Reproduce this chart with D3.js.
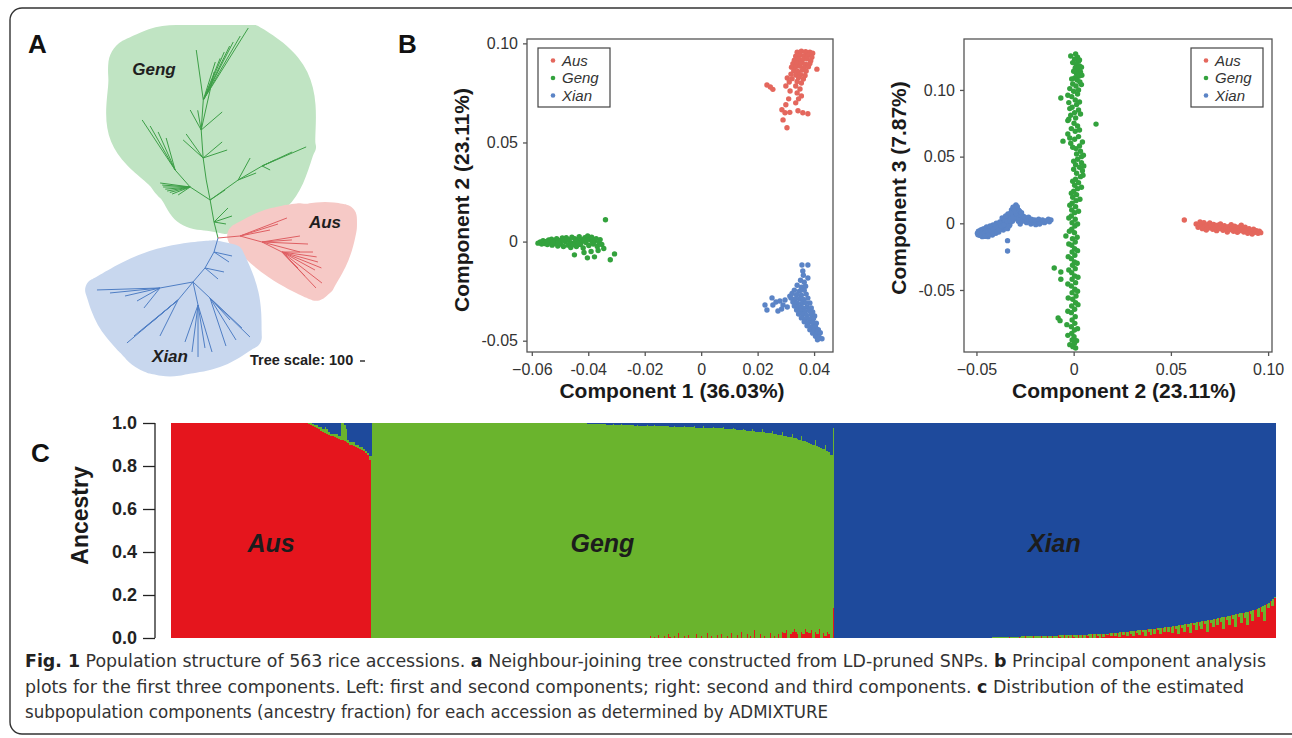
<!DOCTYPE html>
<html>
<head>
<meta charset="utf-8">
<script src="https://cdn.jsdelivr.net/npm/d3@7"></script>
<style>
  body { margin: 0; background: #fff; }
  svg { display: block; font-family: "Liberation Sans", Arial, sans-serif; }
</style>
</head>
<body>
<svg id="fig" width="1292" height="738"></svg>
<script>
// ---------------- data ----------------
// tree branches: [nodeId, parentId, angle (deg, 0 = east, 90 = north), length in tree units]
const gengBranches = [
  ["S1","root",104,330],["S2","S1",100,447],["S3","S2",101,408],["S4","S3",98,444],["S5","S4",94,561],["S6","S5",86,601],
  [null,"S6",58,1698],[null,"S6",60,1478],[null,"S6",62.7,1306],[null,"S6",64,1200],[null,"S6",66.4,1048],[null,"S6",68,900],[null,"S6",72.5,797],[null,"S6",98,1010],
  [null,"S5",118.8,456],[null,"S5",77.4,1189],[null,"S5",40.6,553],[null,"S5",100,400],
  [null,"S4",138,538],[null,"S4",125.3,588],[null,"S4",40.1,497],[null,"S4",18.4,506],
  ["L1","S2",147,477],["L2","L1",131.4,453],
  [null,"L2",123.4,1198],[null,"L2",119.6,1012],[null,"L2",114.1,833],[null,"L2",105.7,665],
  [null,"L1",180,540],[null,"L1",185,500],[null,"L1",189.9,467],[null,"L1",195,420],[null,"L1",201.3,386],[null,"L1",172.4,605],[null,"L1",176,560],[null,"L1",213.7,288],
  ["R1","S2",35.5,688],["R2","R1",30.3,556],
  [null,"R2",23.4,959],[null,"R2",25,662],[null,"R2",24.8,286],[null,"R2",-26.6,179],
  [null,"R1",61.4,501],[null,"R1",21.3,386],
  [null,"S1",45,396],[null,"S1",18.4,379],[null,"S1",-9.5,243],[null,"S2",33.7,361]
];
const ausBranches = [
  ["A1","root",5.2,442],["A2","A1",-15.3,456],["A3","A2",-26.6,447],
  [null,"A1",21,1006],[null,"A1",17.5,797],[null,"A1",11.3,612],
  [null,"A2",9,769],[null,"A2",4,600],[null,"A2",-2.5,921],[null,"A2",-14.7,786],
  [null,"A3",0,620],[null,"A3",-8,700],[null,"A3",-15.5,747],[null,"A3",-22,850],[null,"A3",-28.6,752],
  [null,"A3",-37.8,1012],[null,"A3",-46.6,990],[null,"A3",-46.2,665],[null,"A3",-45,453]
];
const xianBranches = [
  ["X1","root",-105.9,291],["X2","X1",-119.4,367],["X3","X2",-130.6,369],
  [null,"X1",-12.5,369],[null,"X1",-33.7,361],[null,"X2",-11.9,388],[null,"X2",-40.2,341],
  ["XL","X3",190.3,671],
  [null,"XL",181.8,1261],[null,"XL",185.7,1005],[null,"XL",192.9,718],[null,"XL",209.5,528],[null,"XL",231.3,512],
  ["XD","X3",-129.8,469],
  [null,"XD",220.1,1334],[null,"XD",219.3,1137],[null,"XD",219.8,937],[null,"XD",220.2,681],[null,"XD",243.4,805],
  ["XC","X3",-77.7,471],
  [null,"XC",-90,1040],[null,"XC",-97.3,948],[null,"XC",-80.8,871],[null,"XC",-109.4,784],[null,"XC",-73.4,981],
  ["XR","X3",-43.3,467],
  [null,"XR",-44.3,1117],[null,"XR",-43.2,877],[null,"XR",-58.2,988],[null,"XR",-71.6,1012],[null,"XR",-47.7,595]
];

// PCA: component 1 vs component 2
const aus12 = [[0.0340,0.0955],[0.0355,0.0960],[0.0370,0.0958],[0.0385,0.0955],[0.0395,0.0950],[0.0335,0.0935],[0.0350,0.0940],[0.0365,0.0938],[0.0380,0.0942],[0.0392,0.0930],[0.0330,0.0915],[0.0345,0.0920],[0.0360,0.0918],[0.0375,0.0922],[0.0388,0.0912],[0.0325,0.0898],[0.0340,0.0900],[0.0355,0.0902],[0.0370,0.0895],[0.0385,0.0898],[0.0320,0.0880],[0.0335,0.0882],[0.0350,0.0885],[0.0365,0.0878],[0.0380,0.0882],[0.0410,0.0870],[0.0328,0.0862],[0.0342,0.0858],[0.0358,0.0865],[0.0372,0.0860],[0.0318,0.0845],[0.0335,0.0840],[0.0352,0.0842],[0.0368,0.0838],[0.0305,0.0825],[0.0322,0.0822],[0.0345,0.0828],[0.0362,0.0820],[0.0312,0.0805],[0.0340,0.0808],[0.0355,0.0800],[0.0233,0.0790],[0.0254,0.0768],[0.0245,0.0780],[0.0300,0.0785],[0.0335,0.0785],[0.0350,0.0770],[0.0315,0.0760],[0.0340,0.0750],[0.0355,0.0735],[0.0345,0.0720],[0.0335,0.0700],[0.0286,0.0665],[0.0297,0.0650],[0.0314,0.0652],[0.0343,0.0660],[0.0360,0.0650],[0.0378,0.0645],[0.0290,0.0614],[0.0304,0.0574],[0.0300,0.0690],[0.0310,0.0720]];
const geng12 = [[-0.0578,-0.0008],[-0.0570,-0.0002],[-0.0565,-0.0012],[-0.0560,0.0004],[-0.0555,-0.0010],[-0.0550,0.0000],[-0.0545,-0.0015],[-0.0540,0.0008],[-0.0535,-0.0005],[-0.0530,0.0012],[-0.0528,-0.0018],[-0.0522,0.0002],[-0.0518,-0.0010],[-0.0512,0.0015],[-0.0508,-0.0022],[-0.0502,0.0005],[-0.0498,-0.0012],[-0.0492,0.0018],[-0.0488,-0.0025],[-0.0482,0.0000],[-0.0478,0.0020],[-0.0472,-0.0018],[-0.0468,0.0008],[-0.0462,-0.0030],[-0.0458,0.0022],[-0.0452,-0.0008],[-0.0448,0.0015],[-0.0442,-0.0025],[-0.0438,0.0005],[-0.0432,0.0025],[-0.0428,-0.0015],[-0.0422,0.0010],[-0.0418,-0.0032],[-0.0412,0.0020],[-0.0408,-0.0005],[-0.0402,0.0028],[-0.0398,-0.0020],[-0.0392,0.0008],[-0.0388,0.0022],[-0.0382,-0.0012],[-0.0378,0.0002],[-0.0372,0.0015],[-0.0368,-0.0025],[-0.0362,-0.0005],[-0.0358,0.0010],[-0.0352,-0.0015],[-0.0545,0.0002],[-0.0525,-0.0002],[-0.0505,-0.0006],[-0.0485,0.0006],[-0.0465,-0.0004],[-0.0445,0.0002],[-0.0425,-0.0004],[-0.0405,0.0010],[-0.0385,-0.0002],[-0.0475,0.0012],[-0.0455,-0.0016],[-0.0435,-0.0010],[-0.0415,0.0006],[-0.0339,0.0110],[-0.0449,-0.0067],[-0.0403,-0.0082],[-0.0378,-0.0077],[-0.0322,-0.0092],[-0.0307,-0.0062],[-0.0390,-0.0050],[-0.0365,-0.0045],[-0.0415,-0.0055],[-0.0345,-0.0035]];
const xian12 = [[0.0357,-0.0118],[0.0378,-0.0118],[0.0360,-0.0148],[0.0378,-0.0184],[0.0362,-0.0170],[0.0226,-0.0320],[0.0233,-0.0345],[0.0251,-0.0284],[0.0254,-0.0320],[0.0272,-0.0350],[0.0279,-0.0300],[0.0297,-0.0295],[0.0314,-0.0275],[0.0290,-0.0320],[0.0265,-0.0305],[0.0305,-0.0330],[0.0285,-0.0340],[0.0340,-0.0220],[0.0355,-0.0230],[0.0330,-0.0245],[0.0348,-0.0250],[0.0365,-0.0245],[0.0322,-0.0262],[0.0338,-0.0268],[0.0355,-0.0270],[0.0372,-0.0265],[0.0318,-0.0285],[0.0332,-0.0290],[0.0348,-0.0288],[0.0362,-0.0292],[0.0378,-0.0285],[0.0325,-0.0305],[0.0340,-0.0310],[0.0356,-0.0312],[0.0370,-0.0308],[0.0385,-0.0310],[0.0330,-0.0325],[0.0345,-0.0330],[0.0360,-0.0335],[0.0375,-0.0330],[0.0390,-0.0335],[0.0338,-0.0345],[0.0352,-0.0350],[0.0368,-0.0352],[0.0382,-0.0348],[0.0395,-0.0355],[0.0345,-0.0365],[0.0360,-0.0368],[0.0375,-0.0372],[0.0390,-0.0368],[0.0402,-0.0375],[0.0355,-0.0385],[0.0370,-0.0390],[0.0385,-0.0392],[0.0398,-0.0388],[0.0365,-0.0405],[0.0380,-0.0410],[0.0395,-0.0408],[0.0408,-0.0412],[0.0375,-0.0425],[0.0390,-0.0430],[0.0405,-0.0428],[0.0385,-0.0445],[0.0400,-0.0448],[0.0415,-0.0445],[0.0395,-0.0462],[0.0410,-0.0465],[0.0422,-0.0460],[0.0405,-0.0478],[0.0418,-0.0482],[0.0428,-0.0490],[0.0412,-0.0495],[0.0365,-0.0205],[0.0352,-0.0195],[0.0370,-0.0225]];

// PCA: component 2 vs component 3
const aus23 = [[0.0569,0.0025],[0.0630,-0.0005],[0.0640,-0.0030],[0.0650,0.0010],[0.0655,-0.0015],[0.0662,-0.0040],[0.0670,0.0005],[0.0675,-0.0025],[0.0682,-0.0050],[0.0688,-0.0010],[0.0695,-0.0035],[0.0700,0.0002],[0.0708,-0.0020],[0.0715,-0.0045],[0.0720,-0.0008],[0.0728,-0.0030],[0.0735,-0.0055],[0.0740,-0.0015],[0.0748,-0.0040],[0.0755,-0.0005],[0.0762,-0.0028],[0.0768,-0.0052],[0.0775,-0.0018],[0.0782,-0.0040],[0.0790,-0.0065],[0.0795,-0.0025],[0.0802,-0.0048],[0.0810,-0.0010],[0.0815,-0.0035],[0.0822,-0.0060],[0.0828,-0.0022],[0.0835,-0.0045],[0.0842,-0.0068],[0.0848,-0.0030],[0.0855,-0.0055],[0.0862,-0.0015],[0.0868,-0.0040],[0.0875,-0.0065],[0.0882,-0.0030],[0.0888,-0.0052],[0.0895,-0.0075],[0.0902,-0.0040],[0.0910,-0.0060],[0.0918,-0.0080],[0.0925,-0.0045],[0.0932,-0.0068],[0.0940,-0.0055],[0.0948,-0.0075],[0.0955,-0.0060],[0.0962,-0.0070]];
const geng23 = [[0.0010,0.1270],[0.0020,0.1245],[0.0005,0.1230],[0.0025,0.1215],[0.0012,0.1195],[0.0030,0.1180],[0.0008,0.1165],[0.0022,0.1150],[0.0035,0.1135],[0.0015,0.1120],[0.0028,0.1105],[0.0005,0.1090],[0.0018,0.1075],[0.0032,0.1060],[-0.0005,0.1045],[0.0012,0.1030],[-0.0020,0.1010],[0.0000,0.0990],[0.0020,0.0970],[-0.0066,0.0940],[-0.0010,0.0950],[0.0008,0.0925],[-0.0025,0.0905],[0.0015,0.0890],[-0.0008,0.0870],[0.0025,0.0850],[0.0005,0.0830],[-0.0015,0.0810],[0.0115,0.0744],[0.0010,0.0790],[-0.0030,0.0770],[0.0002,0.0750],[0.0020,0.0730],[-0.0012,0.0710],[0.0008,0.0690],[-0.0030,0.0670],[-0.0055,0.0616],[0.0025,0.0650],[0.0005,0.0630],[-0.0015,0.0600],[0.0030,0.0580],[0.0012,0.0560],[0.0035,0.0540],[0.0015,0.0520],[0.0040,0.0500],[0.0020,0.0480],[0.0040,0.0455],[0.0010,0.0440],[0.0030,0.0420],[0.0045,0.0395],[0.0015,0.0375],[0.0035,0.0350],[0.0010,0.0330],[0.0025,0.0305],[0.0005,0.0285],[0.0020,0.0260],[0.0000,0.0240],[0.0015,0.0215],[-0.0005,0.0195],[0.0012,0.0170],[-0.0008,0.0150],[0.0010,0.0125],[-0.0010,0.0100],[0.0005,0.0080],[-0.0012,0.0055],[0.0008,0.0030],[-0.0008,0.0005],[0.0006,-0.0020],[-0.0010,-0.0045],[0.0004,-0.0070],[-0.0040,-0.0095],[-0.0006,-0.0115],[0.0008,-0.0140],[-0.0010,-0.0165],[0.0005,-0.0190],[-0.0008,-0.0215],[0.0006,-0.0240],[-0.0012,-0.0265],[0.0004,-0.0290],[-0.0100,-0.0335],[-0.0006,-0.0315],[0.0008,-0.0340],[-0.0066,-0.0365],[-0.0010,-0.0370],[0.0005,-0.0395],[-0.0066,-0.0420],[-0.0008,-0.0420],[0.0010,-0.0445],[-0.0012,-0.0470],[0.0006,-0.0495],[-0.0008,-0.0520],[0.0012,-0.0545],[-0.0005,-0.0570],[0.0010,-0.0595],[-0.0010,-0.0620],[0.0005,-0.0645],[-0.0012,-0.0670],[-0.0080,-0.0710],[-0.0070,-0.0730],[0.0008,-0.0700],[-0.0008,-0.0725],[0.0006,-0.0750],[-0.0012,-0.0775],[0.0004,-0.0800],[-0.0010,-0.0825],[0.0002,-0.0850],[-0.0008,-0.0875],[0.0004,-0.0900],[-0.0004,-0.0925],
  [-0.0015,0.1255],[0.0030,0.1225],[-0.0005,0.1205],[0.0040,0.1170],[0.0000,0.1140],[0.0042,0.1110],[-0.0010,0.1082],[0.0040,0.1040],[0.0025,0.1000],[-0.0030,0.0960],[0.0030,0.0910],[-0.0020,0.0860],[0.0035,0.0820],[-0.0025,0.0780],[0.0030,0.0700],[-0.0020,0.0640],[0.0045,0.0610],[-0.0005,0.0570],[0.0050,0.0510],[0.0000,0.0465],[0.0052,0.0430],[0.0000,0.0405],[0.0048,0.0360],[-0.0005,0.0315],[0.0040,0.0270],[-0.0012,0.0225],[0.0032,0.0180],[-0.0020,0.0135],[0.0025,0.0090],[-0.0025,0.0040],[0.0020,-0.0005],[-0.0022,-0.0060],[0.0018,-0.0105],[-0.0025,-0.0155],[0.0020,-0.0205],[-0.0028,-0.0250],[0.0018,-0.0300],[-0.0025,-0.0350],[0.0022,-0.0405],[-0.0030,-0.0455],[0.0020,-0.0510],[-0.0028,-0.0560],[0.0022,-0.0610],[-0.0030,-0.0660],[-0.0035,-0.0760],[0.0020,-0.0790],[-0.0030,-0.0840],[0.0015,-0.0880],[-0.0020,-0.0910],[0.0010,-0.0935]];
const xian23 = [[-0.0495,-0.0075],[-0.0490,-0.0060],[-0.0485,-0.0090],[-0.0478,-0.0050],[-0.0475,-0.0075],[-0.0470,-0.0100],[-0.0465,-0.0062],[-0.0460,-0.0040],[-0.0458,-0.0085],[-0.0452,-0.0055],[-0.0448,-0.0028],[-0.0445,-0.0075],[-0.0440,-0.0100],[-0.0435,-0.0048],[-0.0430,-0.0020],[-0.0428,-0.0068],[-0.0422,-0.0040],[-0.0418,-0.0088],[-0.0415,-0.0012],[-0.0410,-0.0058],[-0.0405,-0.0030],[-0.0400,-0.0075],[-0.0398,0.0000],[-0.0392,-0.0045],[-0.0388,-0.0015],[-0.0385,-0.0065],[-0.0380,0.0010],[-0.0375,-0.0035],[-0.0370,-0.0005],[-0.0365,0.0025],[-0.0362,-0.0050],[-0.0358,0.0012],[-0.0352,-0.0025],[-0.0348,0.0040],[-0.0345,0.0005],[-0.0340,-0.0040],[-0.0335,0.0030],[-0.0330,0.0060],[-0.0328,-0.0010],[-0.0322,0.0045],[-0.0318,0.0085],[-0.0315,0.0015],[-0.0310,0.0065],[-0.0305,0.0110],[-0.0300,0.0035],[-0.0297,0.0137],[-0.0293,0.0090],[-0.0290,0.0050],[-0.0285,0.0015],[-0.0280,0.0070],[-0.0275,-0.0005],[-0.0270,0.0040],[-0.0262,0.0055],[-0.0258,0.0020],[-0.0250,0.0035],[-0.0242,0.0005],[-0.0235,0.0030],[-0.0228,0.0015],[-0.0220,-0.0005],[-0.0212,0.0025],[-0.0205,0.0008],[-0.0195,-0.0010],[-0.0185,0.0015],[-0.0175,-0.0005],[-0.0165,0.0010],[-0.0150,0.0005],[-0.0140,0.0020],[-0.0125,0.0012],[-0.0117,0.0025],[-0.0340,-0.0130],[-0.0340,-0.0208],
  [-0.0492,-0.0085],[-0.0482,-0.0070],[-0.0472,-0.0088],[-0.0468,-0.0045],[-0.0462,-0.0075],[-0.0455,-0.0098],[-0.0450,-0.0040],[-0.0442,-0.0060],[-0.0438,-0.0085],[-0.0432,-0.0035],[-0.0425,-0.0055],[-0.0420,-0.0025],[-0.0412,-0.0075],[-0.0408,-0.0045],[-0.0402,-0.0015],[-0.0395,-0.0060],[-0.0390,-0.0030],[-0.0382,-0.0050],[-0.0378,0.0000],[-0.0372,-0.0020],[-0.0368,0.0040],[-0.0360,-0.0010],[-0.0355,0.0025],[-0.0350,0.0055],[-0.0342,0.0015],[-0.0338,0.0070],[-0.0332,-0.0020],[-0.0325,0.0020],[-0.0320,0.0100],[-0.0312,0.0040],[-0.0308,0.0085],[-0.0302,0.0125],[-0.0295,0.0070],[-0.0288,0.0105],[-0.0282,0.0040],[-0.0278,0.0090],[-0.0272,0.0060],[-0.0265,0.0015],[-0.0255,0.0050],[-0.0245,0.0040],[-0.0232,0.0045],[-0.0218,0.0030],[-0.0200,0.0025],[-0.0180,0.0030],[-0.0160,0.0025],[-0.0130,0.0030],
  [-0.0312,0.0120],[-0.0290,0.0125],[-0.0283,0.0098],[-0.0305,0.0095],[-0.0268,0.0080],[-0.0325,0.0075]];

const pc1Ticks = [-0.06, -0.04, -0.02, 0, 0.02, 0.04];
const pc1TickLabels = ["\u22120.06", "-0.04", "-0.02", "0", "0.02", "0.04"];
const pc2Ticks = [-0.05, 0, 0.05, 0.10];
const pc2TickLabels = ["-0.05", "0", "0.05", "0.10"];
const pc2xTickLabels = ["\u22120.05", "0", "0.05", "0.10"];
const pc3Ticks = [-0.05, 0, 0.05, 0.10];
const pc3TickLabels = ["-0.05", "0", "0.05", "0.10"];

// ADMIXTURE (K = 3), accessions sorted within group; values in percent
const ausPureCount = 70;
const ausRed  = [99.5,99,98.5,98,97.5,97,96.5,96,95.5,95,94.5,94,94,93.5,93,92.5,92,92,91.5,91,90.5,90,90,89.5,89,88.5,88,87.5,87,86,85,83];
const ausBlue = [0,0,0.5,1,1,2,2,3,2,3,4,5,5,5,5,6,0,0,1,3,8,9,9,9,10,10,11,11,12,13,14,15.5];
const gengPureCount = 110;
const gengBlue = [0.3,0.3,0.4,0.4,0.5,0.3,0.5,0.6,0.6,0.4,0.7,0.7,0.8,0.5,0.8,0.9,0.9,0.6,1.0,1.0,1.0,0.7,1.1,1.1,1.2,0.8,1.2,1.2,1.3,1.3,0.9,1.3,1.4,1.4,1.0,1.4,1.5,1.5,
  1.5,1.6,1.2,1.6,1.7,1.7,1.3,1.8,1.8,1.8,1.9,1.4,1.9,2.0,2.0,2.0,1.5,2.1,2.1,2.2,2.2,1.6,2.3,2.3,2.3,2.4,1.8,2.4,2.5,2.5,2.5,2.0,2.6,
  2.7,2.8,2.9,2.2,3.0,3.1,3.2,3.3,2.6,3.4,3.5,3.6,3.7,2.8,3.9,4.0,4.1,4.2,3.0,4.4,4.5,4.6,4.7,3.6,5.0,
  5.2,5.4,5.6,4.2,5.9,6.1,6.3,6.6,5.0,6.9,7.2,7.5,7.8,6.0,8.3,8.6,9.0,
  9.3,9.7,10.1,8.0,10.6,11.0,11.5,12.0,10.0,12.8,13.5,15.0,2.5];
const gengRed = [0,0,0,0,0,0,0,0,0,0,0,0,0,0,0,0,0,0,0,0,0,0,0,0,0,0,0,0,0,0,0,0,1,0,0.5,0,1.5,0,
  0,1,0,2,0.5,0,1,0,2.5,0,0,1,0,1.5,0,0,0,2,0,0,1,0,0,2.5,0,1,0,0,1.5,0,2,0,0,
  1,0,2.5,0,0,1.5,0,3,0,0,2,0,1,0,3.5,0,0,2,0,1,0,0,2.5,0,1,
  0,2,0,3,2.5,3.5,0,2,3,4,3,2,0,3,2,4,3,
  2.5,3.5,0,3,2,4,0,2.5,1,3,2,0,14];
const xianPureCount = 80;
const xianNonBlue = [0.3,0.3,0.3,0.4,0.4,0.4,0.4,0.5,0.5,0.5,0.5,0.6,0.6,0.6,0.6,0.7,0.7,0.7,0.7,0.8,0.8,0.8,0.8,0.9,0.9,0.9,0.9,1.0,1.0,1.0,
  1.0,1.1,1.1,1.1,1.2,1.2,1.2,1.3,1.3,1.3,1.4,1.4,1.4,1.5,1.5,1.5,1.6,1.6,1.6,1.7,1.7,1.7,1.8,1.8,1.8,1.9,1.9,1.9,2.0,2.0,
  2.1,2.2,2.3,2.4,2.5,2.6,2.7,2.8,2.9,3.0,3.1,3.2,3.3,3.4,3.5,3.6,3.7,3.8,3.9,4.0,4.1,4.2,4.3,4.4,4.5,4.6,4.7,4.8,4.9,5.0,
  5.2,5.3,5.5,5.6,5.8,5.9,6.1,6.2,6.4,6.5,6.7,6.8,7.0,7.1,7.3,7.4,7.6,7.7,7.9,8.0,8.2,8.3,8.5,8.7,9.0,
  9.2,9.4,9.6,9.8,10.0,10.2,10.4,10.6,10.8,11.0,11.2,11.4,11.6,11.8,12.0,12.2,12.4,12.6,12.8,13.0,
  13.5,14.0,14.5,15.0,15.5,16.0,16.5,17.0,18.0,19.0];
const xianRed = [0,0,0,0,0.4,0,0,0,0,0.5,0,0,0,0,0.6,0,0,0.7,0,0,0,0.8,0,0,0,0.9,0,0,1.0,0,
  0,1.1,0,0,1.2,0.5,0,1.3,0,1.0,0,1.4,0.6,0,1.5,0,1.2,0,1.6,0.8,0,1.7,0,1.8,1.0,0,1.9,0.5,2.0,1.2,
  2.1,0.8,2.3,1.0,2.5,0.5,2.7,1.5,2.9,0.8,3.1,2.0,1.0,3.4,2.5,1.2,3.7,2.8,1.0,4.0,3.0,1.5,4.3,2.0,4.5,3.5,1.8,4.8,3.0,5.0,
  3.0,5.3,2.5,5.6,4.0,2.0,6.1,4.5,3.0,6.5,5.0,2.5,7.0,6.0,3.5,7.4,5.5,4.0,7.9,6.5,3.0,8.3,7.0,5.0,9.0,
  6.0,9.4,7.5,4.0,10.0,8.5,6.0,10.6,9.0,5.0,11.2,10.0,7.0,11.8,9.5,6.0,12.4,11.0,8.0,13.0,
  13.5,10.0,14.5,12.0,8.0,16.0,14.0,17.0,15.0,18.5];
const ancestryTicks = [0, 0.2, 0.4, 0.6, 0.8, 1.0];

const groups = ["Aus", "Geng", "Xian"];
const pcaColors = { Aus: "#e4675d", Geng: "#33a23d", Xian: "#5b84c6" };
const admixColors = { red: "#e5151d", green: "#6ab42d", blue: "#1e4a9c" };

// ---------------- drawing ----------------
const svg = d3.select("#fig");

// outer frame
svg.append("rect").attr("x", 10).attr("y", 8).attr("width", 1300).attr("height", 726)
  .attr("rx", 12).attr("fill", "none").attr("stroke", "#333").attr("stroke-width", 1.4);

// panel letters
svg.selectAll(".panel-letter").data([["A", 28, 53], ["B", 398, 53], ["C", 31, 462]]).join("text")
  .attr("x", d => d[1]).attr("y", d => d[2]).text(d => d[0])
  .attr("font-size", 26).attr("font-weight", "bold").attr("fill", "#111");

// ---- A: neighbour-joining tree ----
const treeScale = d3.scaleLinear().domain([0, 100]).range([0, 5]);
const treeRoot = [218, 238];
const hullTop = 25;   // clade shading stays below this line
const clades = [
  { name: "Geng", branches: gengBranches, line: "#3d9f47", fill: "#c0e4c3", label: [154, 75], pad: 10, labelPad: 28, bulge: 0.2 },
  { name: "Aus",  branches: ausBranches,  line: "#df5f63", fill: "#f6c9c6", label: [325, 228], pad: 13, labelPad: 14, bulge: 0.06 },
  { name: "Xian", branches: xianBranches, line: "#4f7ec4", fill: "#c8d7ee", label: [170, 362], pad: 12, labelPad: 12, bulge: 0.08 }
];

function layoutClade(branches) {
  const pos = { root: treeRoot };
  const segs = [];
  branches.forEach(([id, parent, ang, len]) => {
    const p = pos[parent];
    const a = ang * Math.PI / 180;
    const q = [p[0] + treeScale(len) * Math.cos(a), p[1] - treeScale(len) * Math.sin(a)];
    if (id) pos[id] = q;
    segs.push([p, q]);
  });
  return segs;
}

function padPoints(points, pad, out) {
  points.forEach(([x, y]) => {
    for (let k = 0; k < 24; k++) {
      const a = k / 24 * 2 * Math.PI;
      out.push([x + pad * Math.cos(a), y + pad * Math.sin(a)]);
    }
  });
  return out;
}

// convex hull with long edges bowed outwards, for a rounded "blob" look
function blobPath(pts, bulge) {
  const hull = d3.polygonHull(pts);
  const c = d3.polygonCentroid(hull);
  const out = [];
  hull.forEach((p, i) => {
    const q = hull[(i + 1) % hull.length];
    out.push(p);
    const dx = q[0] - p[0], dy = q[1] - p[1], L = Math.hypot(dx, dy);
    if (L > 20) {
      let nx = -dy / L, ny = dx / L;
      const mx = (p[0] + q[0]) / 2, my = (p[1] + q[1]) / 2;
      if (nx * (mx - c[0]) + ny * (my - c[1]) < 0) { nx = -nx; ny = -ny; }
      [0.25, 0.5, 0.75].forEach(t => {
        const h = bulge * L * Math.sin(Math.PI * t);
        out.push([p[0] + dx * t + nx * h, p[1] + dy * t + ny * h]);
      });
    }
  });
  return d3.line().curve(d3.curveBasisClosed)(out.map(([x, y]) => [x, Math.max(hullTop, y)]));
}

const treeG = svg.append("g");
clades.forEach(c => {
  c.segs = layoutClade(c.branches);
  const [lx, ly] = c.label;
  const pts = padPoints(c.segs.map(s => s[1]), c.pad, []);
  padPoints([[lx - 18, ly - 10], [lx + 18, ly - 10], [lx - 18, ly], [lx + 18, ly]], c.labelPad, pts);
  treeG.append("path").attr("d", blobPath(pts, c.bulge)).attr("fill", c.fill);
});
clades.forEach(c => {
  treeG.append("g").selectAll("line").data(c.segs).join("line")
    .attr("x1", d => d[0][0]).attr("y1", d => d[0][1])
    .attr("x2", d => d[1][0]).attr("y2", d => d[1][1])
    .attr("stroke", c.line).attr("stroke-width", 1);
  treeG.append("text").attr("x", c.label[0]).attr("y", c.label[1])
    .attr("text-anchor", "middle").attr("font-size", 17).attr("font-weight", "bold")
    .attr("font-style", "italic").attr("fill", "#1f1f1f").text(c.name);
});
treeG.append("text").attr("x", 250).attr("y", 365).attr("font-size", 14.5)
  .attr("font-weight", "bold").attr("fill", "#222").text("Tree scale: 100");
treeG.append("line").attr("x1", 360).attr("x2", 360 + treeScale(100)).attr("y1", 361).attr("y2", 361)
  .attr("stroke", "#333").attr("stroke-width", 1.5);

// ---- B: PCA scatter plots ----
function pcaPanel(cfg) {
  const g = svg.append("g");
  const x = d3.scaleLinear().domain(cfg.xDomain).range([cfg.left, cfg.right]);
  const y = d3.scaleLinear().domain(cfg.yDomain).range([cfg.bottom, cfg.top]);

  g.append("rect").attr("x", cfg.left).attr("y", cfg.top)
    .attr("width", cfg.right - cfg.left).attr("height", cfg.bottom - cfg.top)
    .attr("fill", "#fff").attr("stroke", "#555").attr("stroke-width", 1.3);

  const xa = g.append("g").attr("transform", `translate(0,${cfg.bottom})`)
    .call(d3.axisBottom(x).tickValues(cfg.xTicks).tickSize(4).tickPadding(8)
      .tickFormat((d, i) => cfg.xLabels[i]));
  const ya = g.append("g").attr("transform", `translate(${cfg.left},0)`)
    .call(d3.axisLeft(y).tickValues(cfg.yTicks).tickSize(4).tickPadding(5)
      .tickFormat((d, i) => cfg.yLabels[i]));
  [xa, ya].forEach(a => {
    a.select(".domain").remove();
    a.selectAll("line").attr("stroke", "#555").attr("stroke-width", 1.3);
    a.selectAll("text").attr("font-size", 16).attr("fill", "#333")
      .attr("font-family", "'Liberation Sans', Arial, sans-serif");
  });

  groups.forEach(k => {
    g.append("g").selectAll("circle").data(cfg.points[k]).join("circle")
      .attr("cx", d => x(d[0])).attr("cy", d => y(d[1])).attr("r", 2.7)
      .attr("fill", pcaColors[k]);
  });

  g.append("text").attr("x", (cfg.left + cfg.right) / 2 + cfg.xTitleShift).attr("y", 398)
    .attr("text-anchor", "middle").attr("font-size", 21).attr("font-weight", "bold")
    .attr("fill", "#1a1a1a").text(cfg.xTitle);
  g.append("text").attr("transform", `translate(${cfg.left - 58},${cfg.yTitleY}) rotate(-90)`)
    .attr("text-anchor", "middle").attr("font-size", 21).attr("font-weight", "bold")
    .attr("fill", "#1a1a1a").text(cfg.yTitle);

  const lg = g.append("g").attr("transform", `translate(${cfg.legendX},48)`);
  lg.append("rect").attr("width", 72).attr("height", 59).attr("fill", "#fff")
    .attr("stroke", "#444").attr("stroke-width", 1.2);
  groups.forEach((k, i) => {
    lg.append("circle").attr("cx", 15).attr("cy", 12.5 + i * 17.5).attr("r", 2.3).attr("fill", pcaColors[k]);
    lg.append("text").attr("x", 24).attr("y", 12.5 + i * 17.5).attr("dy", "0.35em")
      .attr("font-size", 15).attr("font-style", "italic").attr("fill", "#333").text(k);
  });
}

pcaPanel({
  left: 527, right: 833, top: 39, bottom: 352,
  xDomain: [-0.0617, 0.0467], yDomain: [-0.0557, 0.1022],
  xTicks: pc1Ticks, xLabels: pc1TickLabels, yTicks: pc2Ticks, yLabels: pc2TickLabels,
  points: { Aus: aus12, Geng: geng12, Xian: xian12 },
  xTitle: "Component 1 (36.03%)", yTitle: "Component 2 (23.11%)",
  xTitleShift: -8, yTitleY: 200, legendX: 538
});
pcaPanel({
  left: 964, right: 1272, top: 39, bottom: 352,
  xDomain: [-0.0564, 0.102], yDomain: [-0.0965, 0.1382],
  xTicks: pc2Ticks, xLabels: pc2xTickLabels, yTicks: pc3Ticks, yLabels: pc3TickLabels,
  points: { Aus: aus23, Geng: geng23, Xian: xian23 },
  xTitle: "Component 2 (23.11%)", yTitle: "Component 3 (7.87%)",
  xTitleShift: 6, yTitleY: 188, legendX: 1191
});

// ---- C: ADMIXTURE bar plot ----
const accessions = [];
d3.range(ausPureCount).forEach(() => accessions.push({ group: "Aus", red: 1, green: 0, blue: 0 }));
ausRed.forEach((r, i) => accessions.push({ group: "Aus", red: r / 100, blue: ausBlue[i] / 100, green: (100 - r - ausBlue[i]) / 100 }));
d3.range(gengPureCount).forEach(() => accessions.push({ group: "Geng", red: 0, green: 1, blue: 0 }));
gengBlue.forEach((b, i) => accessions.push({ group: "Geng", red: gengRed[i] / 100, blue: b / 100, green: (100 - b - gengRed[i]) / 100 }));
d3.range(xianPureCount).forEach(() => accessions.push({ group: "Xian", red: 0, green: 0, blue: 1 }));
xianNonBlue.forEach((t, i) => accessions.push({ group: "Xian", red: xianRed[i] / 100, green: (t - xianRed[i]) / 100, blue: (100 - t) / 100 }));

const bx = d3.scaleBand().domain(d3.range(accessions.length)).range([171, 1275]).padding(0);
const by = d3.scaleLinear().domain([0, 1]).range([638, 423]);
const stacked = d3.stack().keys(["red", "green", "blue"])(accessions);

const barG = svg.append("g").attr("shape-rendering", "crispEdges");
barG.selectAll("g").data(stacked).join("g").attr("fill", d => admixColors[d.key])
  .selectAll("rect").data(d => d).join("rect")
  .attr("x", (d, i) => bx(i)).attr("width", bx.bandwidth() + 1)
  .attr("y", d => by(d[1])).attr("height", d => Math.max(0, by(d[0]) - by(d[1])));

groups.forEach(k => {
  const idx = accessions.map((a, i) => a.group === k ? i : -1).filter(i => i >= 0);
  const cx = (bx(idx[0]) + bx(idx[idx.length - 1]) + bx.bandwidth()) / 2;
  svg.append("text").attr("x", cx).attr("y", by(0.44)).attr("dy", "0.35em")
    .attr("text-anchor", "middle").attr("font-size", 25).attr("font-weight", "bold")
    .attr("font-style", "italic").attr("fill", "#1c1c1c").text(k);
});

const ay = svg.append("g").attr("transform", "translate(155,0)")
  .call(d3.axisLeft(by).tickValues(ancestryTicks).tickSize(12).tickPadding(6).tickFormat(d3.format(".1f")));
ay.select(".domain").attr("stroke", "#222").attr("stroke-width", 1.3).attr("d", `M0,${by(0)}V${by(1)}`);
ay.selectAll("line").attr("stroke", "#222").attr("stroke-width", 1.3);
ay.selectAll("text").attr("font-size", 18).attr("font-weight", "bold").attr("fill", "#222")
  .attr("font-family", "'Liberation Sans', Arial, sans-serif");
svg.append("text").attr("transform", `translate(88,${by(0.57)}) rotate(-90)`)
  .attr("text-anchor", "middle").attr("font-size", 23).attr("font-weight", "bold")
  .attr("fill", "#1a1a1a").text("Ancestry");

// ---- caption ----
const captionLines = [
  [["Fig. 1", true], [" Population structure of 563 rice accessions. ", false], ["a", true],
   [" Neighbour-joining tree constructed from LD-pruned SNPs. ", false], ["b", true], [" Principal component analysis", false]],
  [["plots for the first three components. Left: first and second components; right: second and third components. ", false],
   ["c", true], [" Distribution of the estimated", false]],
  [["subpopulation components (ancestry fraction) for each accession as determined by ADMIXTURE", false]]
];
const captionWidths = [1241, 1219, 803];
const cap = svg.append("g").attr("font-family", "'Liberation Sans Narrow', 'DejaVu Sans Condensed', 'Liberation Sans', sans-serif");
captionLines.forEach((line, li) => {
  const t = cap.append("text").attr("x", 25).attr("y", 667 + li * 25.5)
    .attr("font-size", 18).attr("fill", "#333").style("white-space", "pre")
    .attr("textLength", captionWidths[li]).attr("lengthAdjust", "spacingAndGlyphs");
  line.forEach(([s, b]) => t.append("tspan").attr("font-weight", b ? "bold" : "normal")
    .attr("fill", b ? "#222" : "#333").text(s));
});
</script>
</body>
</html>
